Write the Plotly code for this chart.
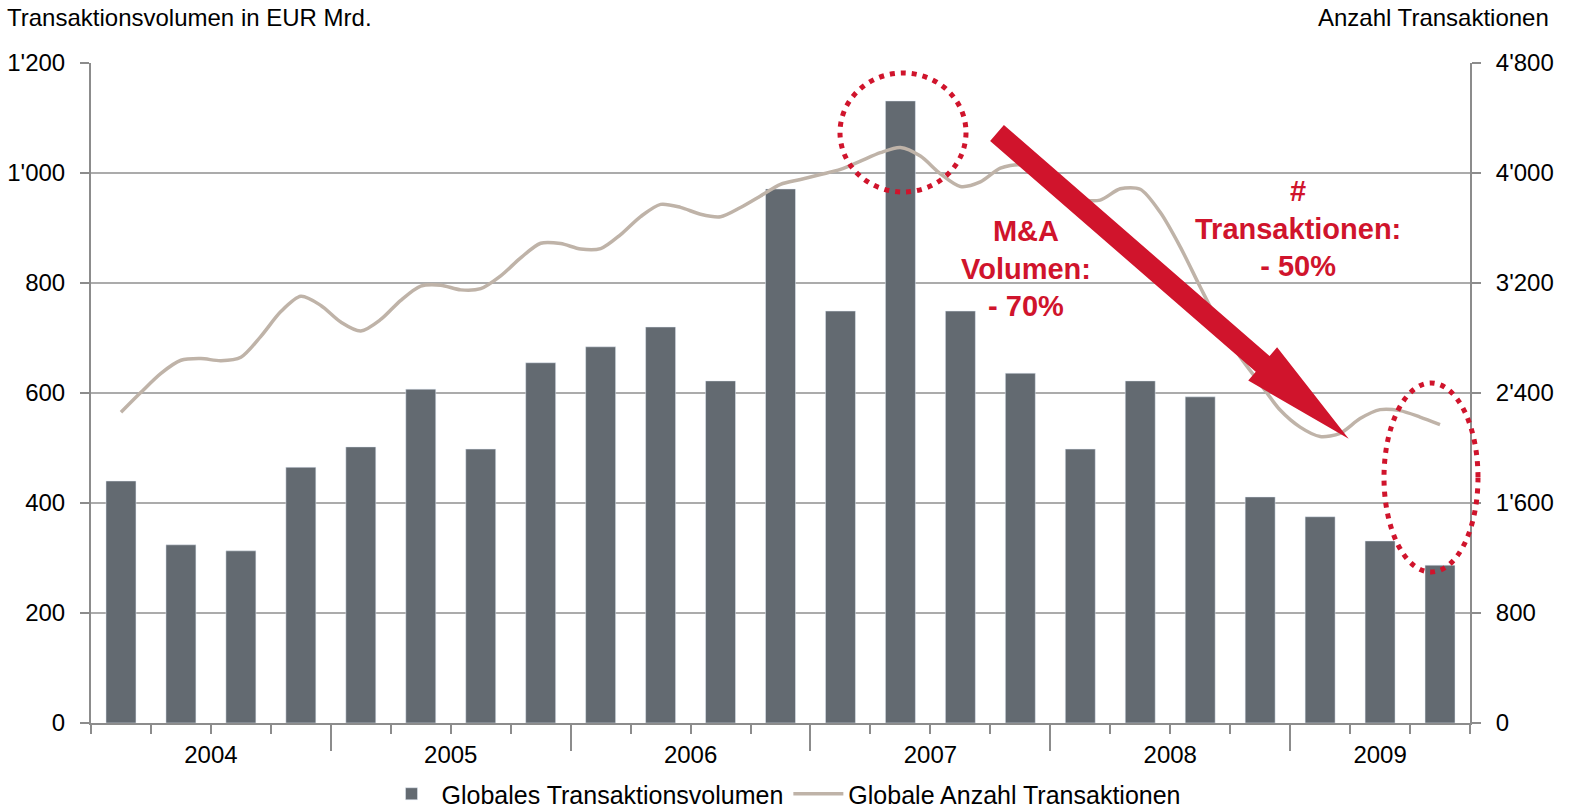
import numpy as np
import plotly.graph_objects as go

# ---------------- data ----------------
quarters = ["Q1 2004", "Q2 2004", "Q3 2004", "Q4 2004",
            "Q1 2005", "Q2 2005", "Q3 2005", "Q4 2005",
            "Q1 2006", "Q2 2006", "Q3 2006", "Q4 2006",
            "Q1 2007", "Q2 2007", "Q3 2007", "Q4 2007",
            "Q1 2008", "Q2 2008", "Q3 2008", "Q4 2008",
            "Q1 2009", "Q2 2009", "Q3 2009"]
volume = [440, 324, 313, 465, 502, 607, 498, 655, 684, 720, 622, 971,
          749, 1131, 749, 636, 498, 622, 593, 411, 375, 331, 287]
# monthly number of transactions (from mid Q1 2004 to mid Q3 2009)
deals = [2260, 2405, 2543, 2638, 2650, 2635, 2660, 2812, 2992, 3103,
         3037, 2916, 2851, 2935, 3074, 3177, 3184, 3150, 3159, 3252,
         3383, 3489, 3487, 3447, 3450, 3552, 3683, 3772, 3750, 3700,
         3682, 3749, 3833, 3918, 3953, 3989, 4026, 4087, 4148, 4186,
         4123, 3994, 3902, 3935, 4035, 4060, 4000, 3900, 3810, 3803,
         3885, 3882, 3714, 3463, 3171, 2891, 2662, 2468, 2276, 2152,
         2084, 2107, 2214, 2279, 2272, 2225, 2170]
left_vals = [0, 200, 400, 600, 800, 1000, 1200]
left_text = ["0", "200", "400", "600", "800", "1'000", "1'200"]
right_vals = [0, 800, 1600, 2400, 3200, 4000, 4800]
right_text = ["0", "800", "1'600", "2'400", "3'200", "4'000", "4'800"]

BAR_COLOR = "#636A71"
LINE_COLOR = "#BFB3A8"
RED = "#D0142C"
AX = "#8C8C8C"
FONT = "Arial, Liberation Sans, sans-serif"

# ---------------- derived positions ----------------
xq = np.arange(len(quarters))
xm = np.arange(len(deals)) / 3.0
qyears = [q.split()[1] for q in quarters]
years = sorted(set(qyears))
year_centers = [float(np.mean([i for i, y in enumerate(qyears) if y == yr])) for yr in years]
year_bounds = [min(i for i, y in enumerate(qyears) if y == yr) - 0.5 for yr in years[1:]]
all_bounds = list(np.arange(-0.5, len(quarters), 1.0))

W, H = 1571, 811
PL, PR, PT, PB = 91, 1470, 63, 723


def px(x):
    return (x - PL) / (PR - PL)


def py(y):
    return (PB - y) / (PB - PT)


fig = go.Figure()
fig.add_trace(go.Bar(x=xq, y=volume, width=0.5, marker_color=BAR_COLOR,
                     name="Globales Transaktionsvolumen", hovertext=quarters))
fig.add_trace(go.Scatter(x=xm, y=deals, mode="lines", yaxis="y2",
                         line=dict(color=LINE_COLOR, width=3.5, shape="spline", smoothing=0.8),
                         name="Globale Anzahl Transaktionen"))
# invisible helper for the long year-boundary ticks
fig.add_trace(go.Scatter(x=[-0.5], y=[0], xaxis="x2", mode="markers",
                         marker=dict(opacity=0), showlegend=False, hoverinfo="skip"))

shapes = []
# red arrow (pixel geometry -> paper)
ang = np.deg2rad(41.0)
u = np.array([np.cos(ang), np.sin(ang)])
n = np.array([-np.sin(ang), np.cos(ang)])
tail = np.array([997.0, 133.0])
base = tail + 352 * u
tip = tail + 466 * u
pts = [tail + n * 10.5, base + n * 10.5, base + n * 22, tip,
       base - n * 22, base - n * 10.5, tail - n * 10.5]
path = "M " + " L ".join(f"{px(p[0]):.5f},{py(p[1]):.5f}" for p in pts) + " Z"
shapes.append(dict(type="path", path=path, xref="paper", yref="paper",
                   fillcolor=RED, line=dict(width=0), layer="above"))
# dotted ellipses
for cx, cy, rx, ry in [(903, 132.5, 63, 59.5), (1431, 477.5, 47, 94.5)]:
    shapes.append(dict(type="circle", xref="paper", yref="paper",
                       x0=px(cx - rx), x1=px(cx + rx), y0=py(cy + ry), y1=py(cy - ry),
                       line=dict(color=RED, width=5, dash="5px,6px"), layer="above"))

annotations = [
    dict(text="Transaktionsvolumen in EUR Mrd.", xref="paper", yref="paper",
         x=px(5), y=py(17), xanchor="left", yanchor="middle", showarrow=False,
         font=dict(size=24, color="#000", family=FONT)),
    dict(text="Anzahl Transaktionen", xref="paper", yref="paper",
         x=px(1551), y=py(17), xanchor="right", yanchor="middle", showarrow=False,
         font=dict(size=24, color="#000", family=FONT)),
    dict(text="<b>M&A<br>Volumen:<br>- 70%</b>", xref="paper", yref="paper",
         x=px(1026), y=py(268), xanchor="center", yanchor="middle", showarrow=False,
         align="center", font=dict(size=29, color=RED, family=FONT)),
    dict(text="<b>#<br>Transaktionen:<br>- 50%</b>", xref="paper", yref="paper",
         x=px(1298), y=py(228), xanchor="center", yanchor="middle", showarrow=False,
         align="center", font=dict(size=29, color=RED, family=FONT)),
]

fig.update_layout(
    width=W, height=H,
    margin=dict(l=PL, r=W - PR, t=PT, b=H - PB, autoexpand=False),
    plot_bgcolor="white", paper_bgcolor="white",
    font=dict(family=FONT, size=24, color="#000"),
    bargap=0.5,
    showlegend=True,
    legend=dict(orientation="h", x=784 / W, xref="container", xanchor="center",
                y=(H - 794) / H, yref="container", yanchor="middle",
                font=dict(size=25, family=FONT), bgcolor="rgba(0,0,0,0)",
                itemwidth=50, traceorder="normal"),
    xaxis=dict(range=[-0.5, len(quarters) - 0.5], tickmode="array", automargin=False,
               tickvals=year_centers, ticktext=years, ticks="", showgrid=False,
               zeroline=False, showline=True, linecolor=AX, linewidth=2,
               ticklabelstandoff=9, tickfont=dict(size=24),
               minor=dict(tickmode="array", tickvals=all_bounds, ticks="outside",
                          ticklen=9, tickwidth=2, tickcolor=AX, showgrid=False)),
    xaxis2=dict(range=[-0.5, len(quarters) - 0.5], overlaying="x", anchor="y", side="bottom",
                tickmode="array", tickvals=year_bounds, ticks="outside", ticklen=27,
                tickwidth=2, tickcolor=AX, showticklabels=False, showgrid=False,
                zeroline=False, showline=False, automargin=False),
    yaxis=dict(range=[0, 1200], tickmode="array", tickvals=left_vals, ticktext=left_text,
               ticks="outside", ticklen=9, tickwidth=2, tickcolor=AX, automargin=False,
               showline=True, linecolor=AX, linewidth=2, showgrid=True,
               gridcolor="#ABABAB", gridwidth=1.5, zeroline=False,
               ticklabelstandoff=10, tickfont=dict(size=24)),
    yaxis2=dict(range=[0, 4800], overlaying="y", side="right", tickmode="array",
                tickvals=right_vals, ticktext=right_text, ticks="outside", ticklen=9,
                tickwidth=2, tickcolor=AX, showline=True, linecolor=AX, linewidth=2,
                showgrid=False, zeroline=False, ticklabelstandoff=10, automargin=False,
                tickfont=dict(size=24)),
    shapes=shapes,
    annotations=annotations,
)

fig.write_html("out.html", config={"displayModeBar": False},
               post_script="document.body.style.margin='0';document.body.style.overflow='hidden';")
